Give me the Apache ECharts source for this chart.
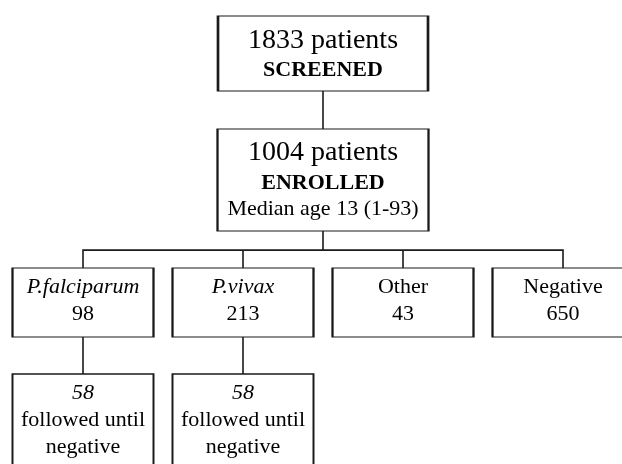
<!DOCTYPE html>
<html>
<head>
<meta charset="utf-8">
<script src="https://cdn.jsdelivr.net/npm/echarts@6/dist/echarts.min.js"></script>
<style>
  html, body { margin: 0; padding: 0; background: #fff; }
  #chart { width: 622px; height: 464px; }
</style>
</head>
<body>
<div id="chart"></div>
<script>
// flow numbers
const stageCounts = [1833, 1004];
const stageNames = ["SCREENED", "ENROLLED"];
const medianAge = "Median age 13 (1-93)";
const groupNames = ["P.falciparum", "P.vivax", "Other", "Negative"];
const groupCounts = [98, 213, 43, 650];
const groupItalic = [true, true, false, false];
const followedCounts = [58, 58, null, null];
const followedText = ["followed until", "negative"];

const font = "Liberation Serif";
const rich = {
  big: { fontFamily: font, fontSize: 28, lineHeight: 34, color: "#000" },
  big2: { fontFamily: font, fontSize: 28, lineHeight: 36, color: "#000" },
  bold: { fontFamily: font, fontSize: 22, fontWeight: "bold", lineHeight: 26, color: "#000" },
  med: { fontFamily: font, fontSize: 22, lineHeight: 26, color: "#000" },
  it: { fontFamily: font, fontSize: 22, fontStyle: "italic", lineHeight: 27, color: "#000" },
  txt: { fontFamily: font, fontSize: 22, lineHeight: 27, color: "#000" }
};

function label(formatter, dy) {
  return {
    show: true,
    position: "inside",
    formatter: formatter,
    offset: [0, dy],
    rich: rich
  };
}

const boxStyle = { color: "#fff", borderColor: "#1a1a1a", borderWidth: 1.6 };
const hidden = { name: "", symbol: "none", label: { show: false } };

const groups = groupNames.map((name, i) => {
  const nameTag = groupItalic[i] ? "it" : "txt";
  const node = {
    name: name,
    symbol: "rect",
    symbolSize: [141, 69],
    symbolOffset: [0, -0.5],
    itemStyle: boxStyle,
    label: label(`{${nameTag}|${name}}\n{txt|${groupCounts[i]}}`, -2)
  };
  if (followedCounts[i] != null) {
    node.children = [
      {
        name: "followed " + name,
        symbol: "rect",
        symbolSize: [141, 92],
        symbolOffset: [0, -6],
        itemStyle: boxStyle,
        label: label(
          `{it|${followedCounts[i]}}\n{txt|${followedText[0]}}\n{txt|${followedText[1]}}`,
          0
        )
      }
    ];
  } else {
    // spacer so every column gets the same width
    node.lineStyle = { opacity: 0 };
    node.children = [hidden];
  }
  return node;
});

const treeData = {
  name: "screened",
  symbol: "rect",
  symbolSize: [210, 75],
  symbolOffset: [0, -3.5],
  itemStyle: boxStyle,
  label: label(`{big|${stageCounts[0]} patients}\n{bold|${stageNames[0]}}`, 0),
  children: [
    {
      name: "enrolled",
      symbol: "rect",
      symbolSize: [211, 102],
      itemStyle: boxStyle,
      label: label(
        `{big2|${stageCounts[1]} patients}\n{bold|${stageNames[1]}}\n{med|${medianAge}}`,
        -1.5
      ),
      children: groups
    }
  ]
};

const chart = echarts.init(document.getElementById("chart"), null, { renderer: "canvas" });
chart.setOption({
  backgroundColor: "#fff",
  animation: false,
  series: [
    {
      type: "tree",
      data: [treeData],
      orient: "TB",
      layout: "orthogonal",
      edgeShape: "polyline",
      edgeForkPosition: "57%",
      left: 43,
      right: 19,
      top: 57,
      bottom: 38,
      roam: false,
      expandAndCollapse: false,
      initialTreeDepth: -1,
      symbol: "rect",
      itemStyle: boxStyle,
      lineStyle: { color: "#1a1a1a", width: 1.6, curveness: 0 },
      label: { show: true, position: "inside", rich: rich },
      leaves: { label: { position: "inside" } },
      emphasis: { disabled: true }
    }
  ]
});
</script>
</body>
</html>
